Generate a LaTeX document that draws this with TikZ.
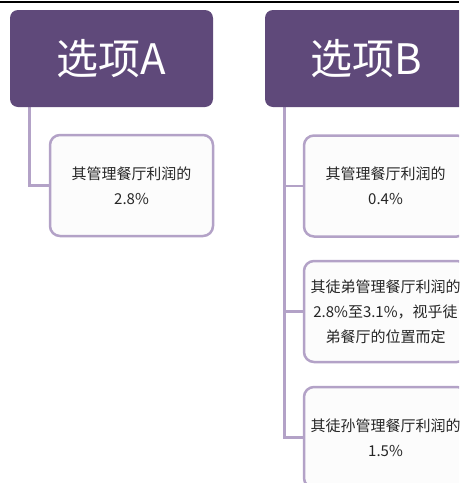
\documentclass[tikz,border=0pt]{standalone}
\usepackage{fontspec}
\newfontfamily\cjk{Noto Sans CJK SC}
\usetikzlibrary{calc,backgrounds}
\definecolor{headpurple}{HTML}{5F497A}
\definecolor{lav}{HTML}{B3A2C7}
\definecolor{boxfill}{HTML}{FCFCFC}
\begin{document}
\begin{tikzpicture}[x=1pt,y=-1pt,
  head/.style={fill=headpurple, rounded corners=8pt, text=white, minimum width=203pt, minimum height=97pt, inner sep=0pt, font=\cjk\fontsize{42}{42}\selectfont},
  leaf/.style={draw=lav, line width=2.5pt, fill=boxfill, rounded corners=10pt, minimum width=163pt, minimum height=101pt, inner sep=2pt, align=center, font=\cjk\fontsize{15}{25}\selectfont, text=black!85},
  link/.style={draw=lav, line width=2.5pt}]
\useasboundingbox (0,0) rectangle (459,483);
\clip (0,0) rectangle (459,483);
\draw[black, line width=1.8pt] (0,1.6) -- (459,1.6);
\node[head] (A) at (111.5,58.5) {选项A};
\node[head] (B) at (366.5,58.5) {选项B};
\node[leaf] (CA) at (131.5,185.5) {其管理餐厅利润的\\2.8\%};
\node[leaf] (B1) at (385.5,186) {其管理餐厅利润的\\0.4\%};
\node[leaf] (B2) at (385.5,311.5) {其徒弟管理餐厅利润的\\2.8\%至3.1\%，视乎徒\\弟餐厅的位置而定};
\node[leaf] (B3) at (385.5,437.5) {其徒孙管理餐厅利润的\\1.5\%};
\coordinate (ta) at ($(A.south west)+(19.5,0)$);
\coordinate (tb) at ($(B.south west)+(19.5,0)$);
\begin{scope}[on background layer]
\draw[link] (ta) |- (CA.west);
\draw[link] (tb) |- (B3.west);
\draw[link] (tb) |- (B1.west);
\draw[link] (tb) |- (B2.west);
\end{scope}
\end{tikzpicture}
\end{document}
